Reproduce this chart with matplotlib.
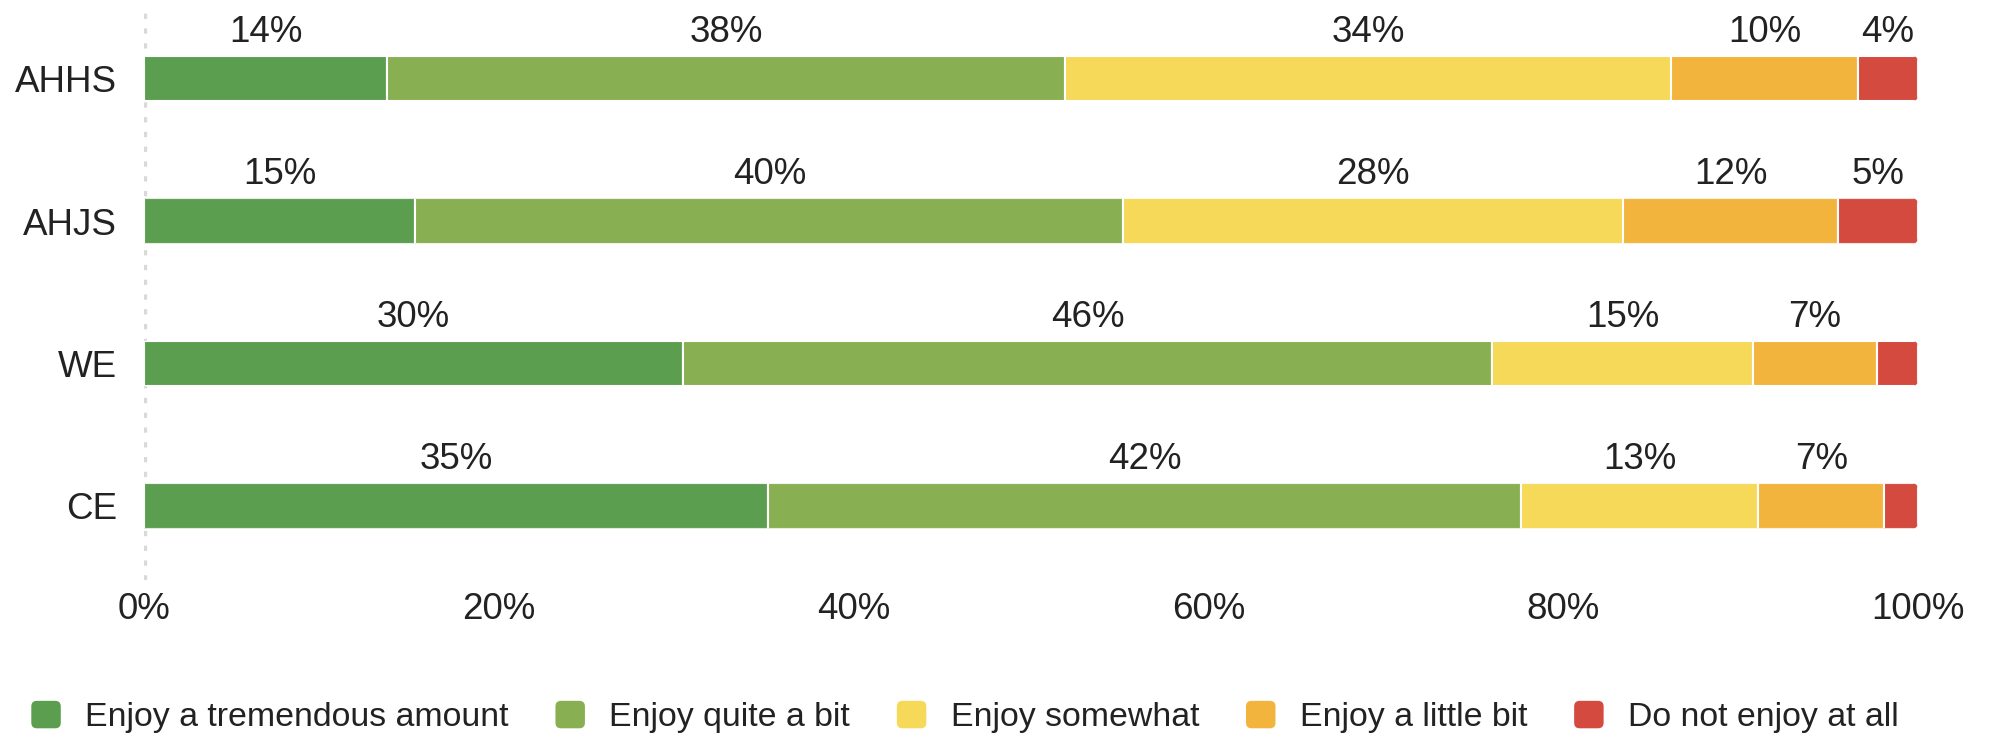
import matplotlib
matplotlib.use('Agg')
import matplotlib.pyplot as plt
from matplotlib.patches import Patch, FancyBboxPatch
from matplotlib.legend_handler import HandlerPatch

plt.rcParams['font.family'] = ['Liberation Sans', 'DejaVu Sans']

# 数据
groups = ['AHHS', 'AHJS', 'WE', 'CE']
answers = ['Enjoy a tremendous amount', 'Enjoy quite a bit', 'Enjoy somewhat',
           'Enjoy a little bit', 'Do not enjoy at all']
tremendous = [13.7, 15.3, 30.4, 35.2]
quite = [38.2, 39.9, 45.6, 42.4]
somewhat = [34.2, 28.2, 14.7, 13.4]
little = [10.5, 12.1, 7.0, 7.1]
not_at_all = [3.4, 4.5, 2.3, 1.9]
shown_labels = [
    ['14%', '38%', '34%', '10%', '4%'],
    ['15%', '40%', '28%', '12%', '5%'],
    ['30%', '46%', '15%', '7%', ''],
    ['35%', '42%', '13%', '7%', ''],
]
xticks = [0, 20, 40, 60, 80, 100]
xtick_labels = ['0%', '20%', '40%', '60%', '80%', '100%']

series = [tremendous, quite, somewhat, little, not_at_all]
colors = ['#5c9e50', '#88b052', '#f6d959', '#f3b43e', '#d44a3f']
text_color = '#222222'
bar_h = 0.32

fig = plt.figure(figsize=(19.91, 7.40), dpi=100)
ax = fig.add_axes([0.0723, 0.2162, 0.8910, 0.777])

ypos = list(range(len(groups)))

# 每行的圆角裁剪框
clips = []
for y in ypos:
    clip = FancyBboxPatch((-3, y - bar_h / 2), 103, bar_h,
                          boxstyle='round,pad=0,rounding_size=0.35',
                          mutation_aspect=0.124, transform=ax.transData)
    clips.append(clip)

left = [0] * len(groups)
for vals, col, name in zip(series, colors, answers):
    bars = ax.barh(ypos, vals, left=left, height=bar_h, color=col,
                   edgecolor='white', linewidth=1.5, label=name, zorder=3)
    for b, clip in zip(bars, clips):
        b.set_clip_path(clip)
    left = [l + v for l, v in zip(left, vals)]

# 数值标签
for i, y in enumerate(ypos):
    start = 0
    for j, vals in enumerate(series):
        txt = shown_labels[i][j]
        if txt:
            ax.text(start + vals[i] / 2, y - bar_h / 2 - 0.098, txt,
                    ha='center', va='baseline', fontsize=26.5, color=text_color)
        start += vals[i]

# 0处的虚线
ax.axvline(0, color='#d9d9d9', linewidth=3.8, linestyle=(0, (1, 1.8)), zorder=1)

ax.set_xlim(0, 100)
ax.set_ylim(3.52, -0.516)
ax.set_xticks(xticks)
ax.set_xticklabels(xtick_labels)
ax.set_yticks(ypos)
ax.set_yticklabels(groups)
ax.tick_params(axis='x', length=0, pad=8.6, labelsize=26.5, labelcolor=text_color)
ax.tick_params(axis='y', length=0, pad=19.4, labelsize=26.5, labelcolor=text_color)
for s in ax.spines.values():
    s.set_visible(False)


def round_patch(legend, orig_handle, xdescent, ydescent, width, height, fontsize):
    return FancyBboxPatch((-xdescent, -ydescent), width, height,
                          boxstyle='round,pad=0,rounding_size=4')


handles = [Patch(facecolor=c, edgecolor='none', label=a) for c, a in zip(colors, answers)]
fig.legend(handles=handles, loc='center', bbox_to_anchor=(0.4847, 0.031),
           ncol=5, frameon=False, fontsize=24.4, labelcolor=text_color,
           handlelength=0.87, handleheight=0.87, handletextpad=0.72,
           columnspacing=1.38, borderpad=0, borderaxespad=0,
           handler_map={Patch: HandlerPatch(patch_func=round_patch)})

fig.savefig('out.png', dpi=100)
